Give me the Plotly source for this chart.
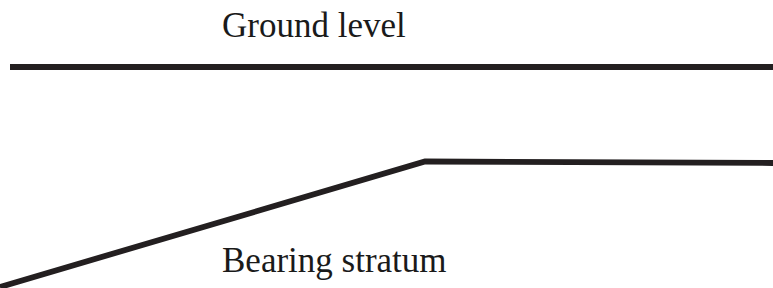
import plotly.graph_objects as go

# Data (in diagram units: x across, depth downward)
ground_x = [10, 773]
ground_y = [67, 67]
stratum_x = [0, 425, 773]
stratum_y = [287, 161.5, 163]
labels = ["Ground level", "Bearing stratum"]
label_x = [220, 220]
label_y = [25, 260]

LINE = "#231f20"
fig = go.Figure()
fig.add_trace(go.Scatter(x=ground_x, y=ground_y, mode="lines",
                         line=dict(color=LINE, width=5.8), hoverinfo="skip"))
fig.add_trace(go.Scatter(x=stratum_x, y=stratum_y, mode="lines",
                         line=dict(color=LINE, width=5.8, shape="linear"), hoverinfo="skip"))
for t, x, y in zip(labels, label_x, label_y):
    fig.add_annotation(x=x, y=y, text=t, showarrow=False, xanchor="left", yanchor="middle",
                       font=dict(family="Liberation Serif", size=35, color="#1a1a1a"))

fig.update_layout(width=773, height=288, margin=dict(l=0, r=0, t=0, b=0),
                  paper_bgcolor="white", plot_bgcolor="white", showlegend=False)
fig.update_xaxes(range=[0, 773], visible=False)
fig.update_yaxes(range=[288, 0], visible=False)
fig.write_html("out.html", config={"displayModeBar": False, "staticPlot": True},
               post_script="document.body.style.margin='0';document.body.style.overflow='hidden';")
